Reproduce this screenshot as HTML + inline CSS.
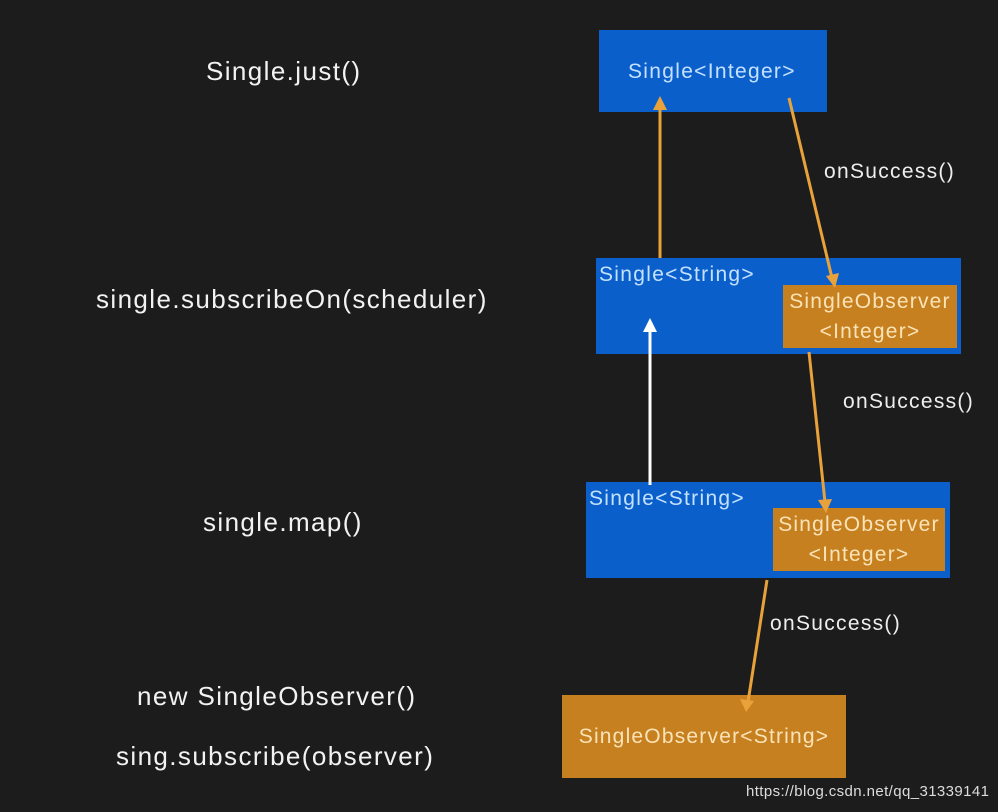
<!DOCTYPE html>
<html><head><meta charset="utf-8"><style>
body{margin:0;width:998px;height:812px;background:#1d1c1d;overflow:hidden;position:relative;font-family:"Liberation Sans",sans-serif}
.t{position:absolute;color:#f2f2f2;font-size:26px;letter-spacing:1.4px;white-space:nowrap}
.b{position:absolute;background:#0b5fcb}
.o{position:absolute;background:#c6801f;color:#fbe3b8;font-size:21px;letter-spacing:1.2px;text-align:center;line-height:30px;white-space:nowrap}
.bt{position:absolute;color:#c4e2ff;font-size:21px;letter-spacing:1.3px;white-space:nowrap}
.l{position:absolute;color:#eee;font-size:21px;letter-spacing:1.3px;white-space:nowrap}
</style></head><body>
<div class="t" style="left:206px;top:56px">Single.just()</div>
<div class="t" style="left:96px;top:284px">single.subscribeOn(scheduler)</div>
<div class="t" style="left:203px;top:507px">single.map()</div>
<div class="t" style="left:137px;top:681px">new SingleObserver()</div>
<div class="t" style="left:116px;top:741px">sing.subscribe(observer)</div>

<div class="b" style="left:599px;top:30px;width:228px;height:82px"></div>
<div class="bt" style="left:628px;top:60px">Single&lt;Integer&gt;</div>
<div class="b" style="left:596px;top:258px;width:365px;height:96px"></div>
<div class="bt" style="left:599px;top:263px">Single&lt;String&gt;</div>
<div class="o" style="left:783px;top:285px;width:174px;height:63px;padding-top:2px;box-sizing:border-box">SingleObserver<br>&lt;Integer&gt;</div>
<div class="b" style="left:586px;top:482px;width:364px;height:96px"></div>
<div class="bt" style="left:589px;top:487px">Single&lt;String&gt;</div>
<div class="o" style="left:773px;top:508px;width:172px;height:63px;padding-top:2px;box-sizing:border-box">SingleObserver<br>&lt;Integer&gt;</div>
<div class="o" style="left:562px;top:695px;width:284px;height:83px;line-height:83px">SingleObserver&lt;String&gt;</div>

<div class="l" style="left:824px;top:160px">onSuccess()</div>
<div class="l" style="left:843px;top:390px">onSuccess()</div>
<div class="l" style="left:770px;top:612px">onSuccess()</div>
<div style="position:absolute;left:746px;top:783px;color:#ddd;font-size:15px;letter-spacing:0.4px">https://blog.csdn.net/qq_31339141</div>

<svg width="998" height="812" style="position:absolute;left:0;top:0">
<g stroke-width="3" fill="none">
<line x1="660" y1="258" x2="660" y2="108" stroke="#e9a23a"/>
<line x1="789" y1="98" x2="832" y2="278" stroke="#e9a23a"/>
<line x1="650" y1="485" x2="650" y2="330" stroke="#fff"/>
<line x1="809" y1="352" x2="825" y2="502" stroke="#e9a23a"/>
<line x1="767" y1="580" x2="748" y2="702" stroke="#e9a23a"/>
</g>
<g fill="#e9a23a">
<polygon points="660,96 653,110 667,110"/>
<polygon points="835,288 826,276 839,273"/>
<polygon points="826,513 818,500 832,499"/>
<polygon points="746,712 740,699 754,701"/>
</g>
<polygon points="650,318 643,332 657,332" fill="#fff"/>
</svg>
</body></html>
